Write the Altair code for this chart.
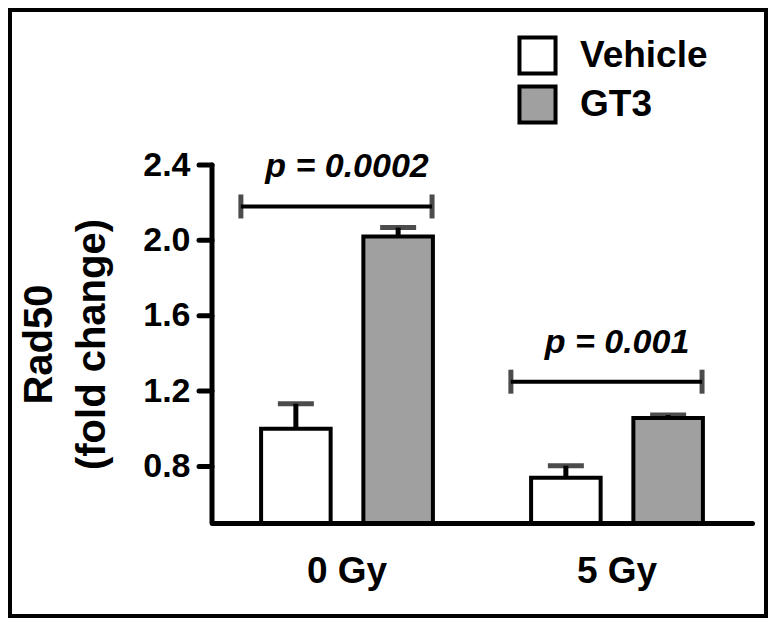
import altair as alt
import pandas as pd

groups = ["0 Gy", "0 Gy", "5 Gy", "5 Gy"]
treatments = ["Vehicle", "GT3", "Vehicle", "GT3"]
means = [1.00, 2.02, 0.74, 1.057]
sems = [0.133, 0.048, 0.064, 0.016]

bracket_groups = ["0 Gy", "5 Gy"]
bracket_y = [2.18, 1.25]
p_labels = ["p = 0.0002", "p = 0.001"]

y_ticks = [0.8, 1.2, 1.6, 2.0, 2.4]
group_order = ["0 Gy", "5 Gy"]
treat_order = ["Vehicle", "GT3"]

df = pd.DataFrame({"group": groups, "treatment": treatments, "mean": means, "sem": sems})
df["upper"] = df["mean"] + df["sem"]
br = pd.DataFrame({"group": bracket_groups, "y": bracket_y, "label": p_labels})
ticks_df = pd.DataFrame({"v": y_ticks})

FONT = "Liberation Sans"

x_scale = alt.Scale(domain=group_order, paddingInner=0, paddingOuter=0)
x_axis = alt.Axis(title=None, ticks=False, labelAngle=0, labelFontSize=37, labelPadding=30,
                  domainWidth=5, domainColor="black", domainCap="round")
x_enc = alt.X("group:N", sort=group_order, scale=x_scale, axis=x_axis)
xoff = alt.XOffset("treatment:N", sort=treat_order,
                   scale=alt.Scale(domain=treat_order, paddingInner=0.32, paddingOuter=0.48))
y_scale = alt.Scale(domain=[0.5, 2.4], nice=False, zero=False)
y_axis = alt.Axis(values=y_ticks, format=".1f", grid=False,
                  title=["Rad50", "(fold change)"], titleFontSize=40,
                  titleLineHeight=53, titlePadding=30,
                  labelFontSize=34, labelPadding=22, ticks=False, domain=False)
y_enc = alt.Y("mean:Q", scale=y_scale, axis=y_axis)

color = alt.Color("treatment:N", sort=treat_order,
                  scale=alt.Scale(domain=treat_order, range=["white", "#a0a0a0"]),
                  legend=alt.Legend(title=None, orient="none", legendX=305, legendY=-130,
                                    symbolType="square", symbolSize=1300,
                                    symbolStrokeWidth=4, symbolStrokeColor="black",
                                    labelFontSize=37, labelFont=FONT, labelFontWeight="bold",
                                    labelColor="black", labelOffset=22, rowPadding=-4))

bars = alt.Chart(df).mark_bar(stroke="black", strokeWidth=4).encode(
    x=x_enc, xOffset=xoff, y=y_enc, y2=alt.datum(0.5), color=color)

err = alt.Chart(df).mark_rule(color="black", strokeWidth=5).encode(
    x=x_enc, xOffset=xoff, y=alt.Y("mean:Q", scale=y_scale, axis=y_axis), y2="upper:Q")

caps = alt.Chart(df).mark_tick(color="black", thickness=5, size=36).encode(
    x=x_enc, xOffset=xoff, y=alt.Y("upper:Q", scale=y_scale, axis=y_axis))

hline = alt.Chart(br).mark_rule(color="black", strokeWidth=4).encode(
    x=alt.X("group:N", sort=group_order, scale=x_scale, bandPosition=0.107, axis=x_axis),
    x2=alt.X2("group:N", bandPosition=0.815),
    y=alt.Y("y:Q", scale=y_scale, axis=y_axis))

lcap = alt.Chart(br).mark_tick(color="black", thickness=5, size=24, orient="vertical").encode(
    x=alt.X("group:N", sort=group_order, scale=x_scale, bandPosition=0.107, axis=x_axis),
    y=alt.Y("y:Q", scale=y_scale, axis=y_axis))
rcap = alt.Chart(br).mark_tick(color="black", thickness=5, size=24, orient="vertical").encode(
    x=alt.X("group:N", sort=group_order, scale=x_scale, bandPosition=0.815, axis=x_axis),
    y=alt.Y("y:Q", scale=y_scale, axis=y_axis))

ptext = alt.Chart(br).mark_text(font=FONT, fontSize=34, fontWeight="bold", fontStyle="italic",
                                dy=-39, baseline="middle", color="black").encode(
    x=alt.X("group:N", sort=group_order, scale=x_scale, bandPosition=0.5, axis=x_axis),
    y=alt.Y("y:Q", scale=y_scale, axis=y_axis), text="label:N")

# y axis line and tick marks drawn as rules (thick, like the reference)
yline = alt.Chart(pd.DataFrame({"k": [0]})).mark_rule(color="black", strokeWidth=5, strokeCap="round").encode(
    x=alt.value(0), y=alt.datum(2.4), y2=alt.datum(0.5))
yticks = alt.Chart(ticks_df).mark_rule(color="black", strokeWidth=5, strokeCap="round").encode(
    x=alt.value(-13), x2=alt.value(0), y=alt.Y("v:Q", scale=y_scale, axis=y_axis))

frame = alt.Chart(pd.DataFrame({"k": [0]})).mark_rect(fill=None, stroke="black", strokeWidth=4).encode(
    x=alt.value(-202), x2=alt.value(554), y=alt.value(-155), y2=alt.value(451))

chart = alt.layer(bars, err, caps, hline, lcap, rcap, ptext, yline, yticks, frame).properties(
    width=540, height=358,
    background="white",
    autosize=alt.AutoSizeParams(type="none"),
    padding={"left": 204, "top": 157, "right": 16, "bottom": 95},
).configure_view(stroke=None).configure_axis(
    domainColor="black", tickColor="black",
    labelFont=FONT, labelFontWeight="bold", labelColor="black",
    titleFont=FONT, titleFontWeight="bold", titleColor="black")

chart.save("out.html", embed_options={"renderer": "svg", "actions": False})
